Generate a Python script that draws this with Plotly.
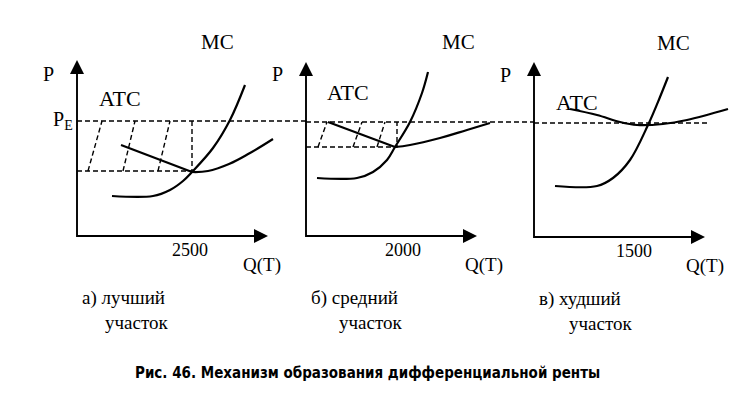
import plotly.graph_objects as go

W, H = 756, 404
OFF = 8  # the page body margin shifts the figure by 8px right and down
SERIF = "Liberation Serif, Times New Roman, serif"
SANS = "DejaVu Sans Condensed, Liberation Sans Narrow, DejaVu Sans, sans-serif"

# where the P and Q axes of each panel meet on the page (px)
ORIGINS = [(77, 236), (306, 236), (534, 237)]

# price level and equilibrium values, local panel units
P_E = [115, 114, 114]
P_MIN = [65, 89, None]
Q_EQ = [115, 91, 114]
PE_END = [229, 228, 173]

Q_LABELS = ["2500", "2000", "1500"]
Q_LABEL_POS = [113, 97, 100]
PANEL_TITLES = ["а) лучший", "б) средний", "в) худший"]

# MC curves
MC1_Q = [35, 76, 93, 106, 115, 136, 153, 168]
MC1_P = [40, 40, 46, 55, 64, 88, 116, 151]
MC2_Q = [11, 51, 67, 81, 89, 104, 116, 122]
MC2_P = [58, 58, 64, 76, 89, 114, 143, 164]
MC3_Q = [21, 63, 79, 96, 114, 126, 134]
MC3_P = [51, 51, 59, 77, 112, 140, 160]

# ATC curves (panels a and b: straight left branch, then curve)
ATC1_Q = [44, 115, 131, 152, 173, 196]
ATC1_P = [91, 64, 65, 72, 83, 97]
ATC2_Q = [22, 89, 104, 134, 161, 184]
ATC2_P = [114, 89, 91, 98, 106, 113]
ATC3_Q = [36, 63, 86, 103, 129, 153, 194]
ATC3_P = [128, 122, 115, 112, 113, 117, 128]

# hatching of the rent area
HATCH1_BOT = [11, 46, 81]
HATCH1_TOP = [25, 58, 93]
HATCH2_BOT = [12, 47, 71]
HATCH2_TOP = [21, 56, 79]

# axis arrow tips
X_END = [191, 171, 171]
Y_END = [176, 174, 175]

MC = [(MC1_Q, MC1_P), (MC2_Q, MC2_P), (MC3_Q, MC3_P)]
ATC = [(ATC1_Q, ATC1_P), (ATC2_Q, ATC2_P), (ATC3_Q, ATC3_P)]
HATCH = [(HATCH1_BOT, HATCH1_TOP), (HATCH2_BOT, HATCH2_TOP), None]

fig = go.Figure()
solid = dict(color="black", width=2.2)
dashed = dict(color="black", width=1.4, dash="5px,3px")


def txt(i, x, y, s, size=20, **kw):
    n = "" if i == 0 else str(i + 1)
    fig.add_annotation(x=x, y=y, xref="x" + n, yref="y" + n, text=s, showarrow=False,
                       font=dict(family=SERIF, size=size, color="black"), **kw)


for i in range(3):
    n = "" if i == 0 else str(i + 1)
    xa, ya = "x" + n, "y" + n
    x0, y0 = ORIGINS[i][0] - OFF, ORIGINS[i][1] - OFF
    fig.update_layout(**{
        "xaxis" + n: dict(domain=[0, 1], range=[-x0, W - x0], visible=False, anchor=ya),
        "yaxis" + n: dict(domain=[0, 1], range=[y0 - H, y0], visible=False, anchor=xa),
    })

    # P_E line
    fig.add_trace(go.Scatter(x=[0, PE_END[i]], y=[P_E[i], P_E[i]], mode="lines",
                             line=dashed, xaxis=xa, yaxis=ya))
    if P_MIN[i] is not None:
        fig.add_trace(go.Scatter(x=[0, Q_EQ[i], Q_EQ[i]], y=[P_MIN[i], P_MIN[i], P_E[i]],
                                 mode="lines", line=dashed, xaxis=xa, yaxis=ya))
        bot, top = HATCH[i]
        for b, t in zip(bot, top):
            fig.add_trace(go.Scatter(x=[b, t], y=[P_MIN[i], P_E[i]], mode="lines",
                                     line=dashed, xaxis=xa, yaxis=ya))

    q, p = ATC[i]
    if i < 2:
        fig.add_trace(go.Scatter(x=q[:2], y=p[:2], mode="lines", line=solid,
                                 xaxis=xa, yaxis=ya))
        fig.add_trace(go.Scatter(x=q[1:], y=p[1:], mode="lines",
                                 line=dict(solid, shape="spline", smoothing=1.2),
                                 xaxis=xa, yaxis=ya))
    else:
        fig.add_trace(go.Scatter(x=q, y=p, mode="lines",
                                 line=dict(solid, shape="spline", smoothing=1.0),
                                 xaxis=xa, yaxis=ya))

    q, p = MC[i]
    fig.add_trace(go.Scatter(x=q, y=p, mode="lines",
                             line=dict(solid, shape="spline", smoothing=1.0),
                             xaxis=xa, yaxis=ya))

    # axes with arrow heads
    fig.add_trace(go.Scatter(x=[0, 0, X_END[i] - 4], y=[Y_END[i] - 4, 0, 0], mode="lines",
                             line=dict(color="black", width=1.9), xaxis=xa, yaxis=ya))
    fig.add_trace(go.Scatter(x=[0, X_END[i]], y=[Y_END[i], 0], mode="markers",
                             marker=dict(symbol=["arrow-up", "arrow-right"], size=14,
                                         color="black", line=dict(width=0)),
                             xaxis=xa, yaxis=ya))

    txt(i, -29, 162, "P")
    txt(i, [43, 42, 43][i], [138, 144, 135][i], "ATC", size=22)
    txt(i, [140, 152, 139][i], 194, "MC", size=21)
    txt(i, [185, 178, 171][i], -29, "Q(T)", size=19)
    txt(i, Q_LABEL_POS[i], -14, Q_LABELS[i], size=18)
    txt(i, 3, -62, PANEL_TITLES[i], size=19, xanchor="left")
    txt(i, [26, 31, 33][i], -86, "участок", size=19, xanchor="left")

txt(0, -2, 116, "P<sub>E</sub>", xanchor="right")

fig.add_annotation(x=(367 - OFF) / W, y=1 - (373 - OFF) / H, xref="paper", yref="paper",
                   showarrow=False, xanchor="center", yanchor="middle",
                   text="<b>Рис. 46. Механизм образования дифференциальной ренты</b>",
                   font=dict(family=SANS, size=15, color="black"))

fig.update_layout(width=W, height=H, margin=dict(l=0, r=0, t=0, b=0), showlegend=False,
                  paper_bgcolor="white", plot_bgcolor="rgba(0,0,0,0)")

fig.write_html("out.html")
